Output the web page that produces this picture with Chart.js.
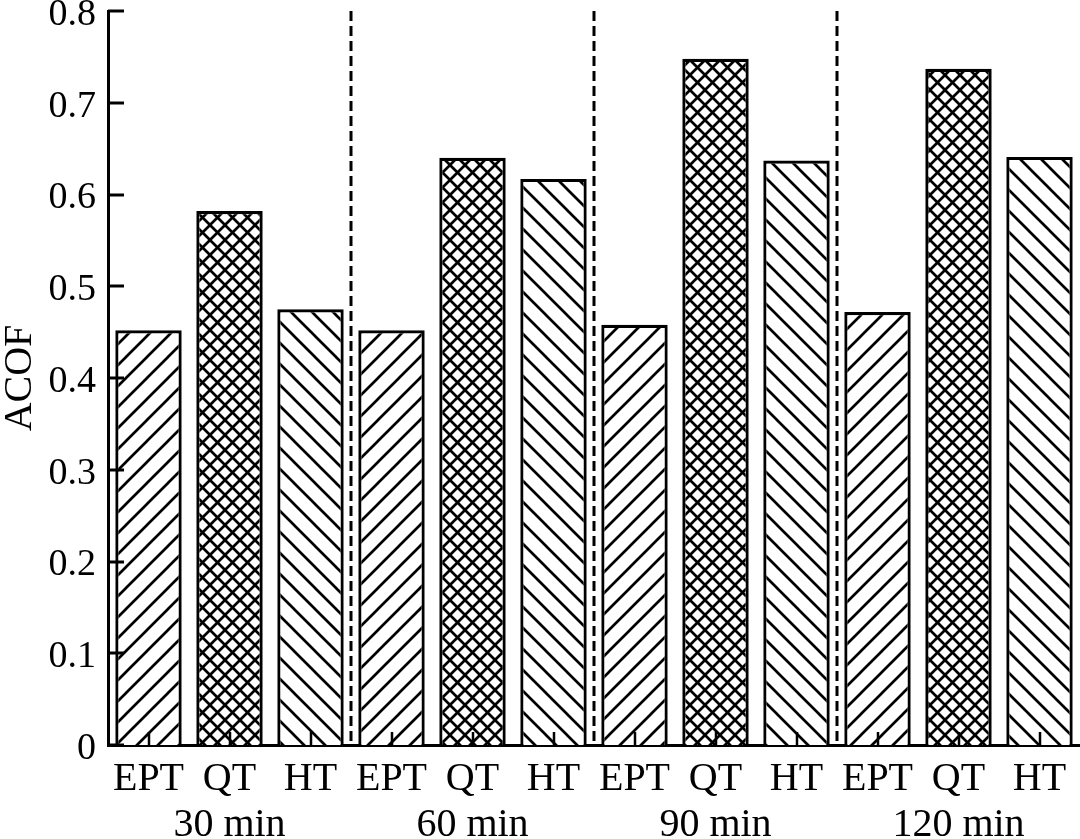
<!DOCTYPE html>
<html>
<head>
<meta charset="utf-8">
<script src="https://cdn.jsdelivr.net/npm/chart.js@4/dist/chart.umd.min.js"></script>
<style>
html,body{margin:0;padding:0;background:#fff;}
#wrap{width:1080px;height:839px;}
</style>
</head>
<body>
<div id="wrap"><canvas id="c" width="1080" height="839"></canvas></div>
<script>
const categories = ['EPT','QT','HT','EPT','QT','HT','EPT','QT','HT','EPT','QT','HT'];
const groupLabels = ['30 min','60 min','90 min','120 min'];
const acof = [0.452,0.582,0.475, 0.452,0.640,0.617, 0.458,0.748,0.637, 0.472,0.737,0.641];
const treatments = ['EPT','QT','HT','EPT','QT','HT','EPT','QT','HT','EPT','QT','HT'];
const yTicks = [0,0.1,0.2,0.3,0.4,0.5,0.6,0.7,0.8];

function makePattern(kind){
  const s = kind === 'cross' ? 15 : 21;
  const cv = document.createElement('canvas');
  cv.width = s; cv.height = s;
  const g = cv.getContext('2d');
  g.fillStyle = '#fff'; g.fillRect(0,0,s,s);
  g.strokeStyle = '#000'; g.lineWidth = 2.7; g.lineCap = 'square';
  function fwd(){ // "/"
    g.beginPath();
    g.moveTo(-2,s+2); g.lineTo(s+2,-2);
    g.moveTo(-2,2); g.lineTo(2,-2);
    g.moveTo(s-2,s+2); g.lineTo(s+2,s-2);
    g.stroke();
  }
  function back(){ // "\"
    g.beginPath();
    g.moveTo(-2,-2); g.lineTo(s+2,s+2);
    g.moveTo(s-2,-2); g.lineTo(s+2,2);
    g.moveTo(-2,s-2); g.lineTo(2,s+2);
    g.stroke();
  }
  if (kind === 'fwd') fwd();
  else if (kind === 'back') back();
  else { fwd(); back(); }
  return document.getElementById('c').getContext('2d').createPattern(cv,'repeat');
}
const patternFor = {EPT: makePattern('fwd'), QT: makePattern('cross'), HT: makePattern('back')};

const FONT = "'Liberation Serif','Times New Roman',serif";

const decor = {
  id:'decor',
  afterDatasetsDraw(chart){
    const ctx = chart.ctx, a = chart.chartArea;
    const xs = chart.scales.x, ys = chart.scales.y;
    ctx.save();
    // dashed group separators
    ctx.strokeStyle = '#000'; ctx.lineWidth = 3; ctx.setLineDash([10,5]);
    for (let i = 3; i < categories.length; i += 3){
      const px = Math.round((xs.getPixelForValue(i-1) + xs.getPixelForValue(i)) / 2);
      ctx.beginPath(); ctx.moveTo(px, a.top); ctx.lineTo(px, a.bottom); ctx.stroke();
    }
    ctx.setLineDash([]);
    ctx.lineWidth = 3;
    // inward y ticks
    yTicks.forEach(v => {
      const py = Math.round(ys.getPixelForValue(v));
      ctx.beginPath(); ctx.moveTo(a.left, py); ctx.lineTo(a.left + 16, py); ctx.stroke();
    });
    // inward x ticks
    ctx.lineWidth = 2.5;
    categories.forEach((c,i) => {
      const px = Math.round(xs.getPixelForValue(i));
      ctx.beginPath(); ctx.moveTo(px, a.bottom); ctx.lineTo(px, a.bottom - 13); ctx.stroke();
    });
    ctx.restore();
  }
};

new Chart(document.getElementById('c'), {
  type:'bar',
  data:{
    labels: categories,
    datasets:[{
      label:'ACOF',
      data: acof,
      backgroundColor: treatments.map(t => patternFor[t]),
      borderColor:'#000',
      borderWidth:3.2,
      barPercentage:0.82,
      categoryPercentage:1
    }]
  },
  options:{
    responsive:false,
    devicePixelRatio:1,
    animation:false,
    layout:{padding:{top:11,right:0,left:0,bottom:0}},
    plugins:{legend:{display:false},tooltip:{enabled:false}},
    scales:{
      x:{
        type:'category',
        position:'bottom',
        offset:true,
        grid:{display:false, drawTicks:false},
        border:{display:true,color:'#000',width:3},
        ticks:{color:'#000',font:{family:FONT,size:40},padding:10,maxRotation:0,autoSkip:false},
        afterFit(s){ s.height = 52; s.paddingLeft = 0; s.paddingRight = 0; }
      },
      x2:{
        type:'category',
        position:'bottom',
        labels: groupLabels,
        offset:true,
        grid:{display:false, drawTicks:false},
        border:{display:false},
        ticks:{color:'#000',font:{family:FONT,size:40},padding:4,maxRotation:0,autoSkip:false},
        afterFit(s){ s.height = 42; s.paddingLeft = 0; s.paddingRight = 0; }
      },
      y:{
        min:0,max:0.8,
        afterBuildTicks(s){ s.ticks = yTicks.map(v => ({value:v})); },
        grid:{display:false, drawTicks:false},
        border:{display:true,color:'#000',width:3},
        ticks:{color:'#000',font:{family:FONT,size:38},padding:12,labelOffset:4,
          callback:(v)=> String(v)},
        title:{display:true,text:'ACOF',color:'#000',font:{family:FONT,size:40,lineHeight:1},padding:0},
        afterFit(s){ s.width = 108; s.paddingTop = 0; s.paddingBottom = 0; }
      }
    }
  },
  plugins:[decor]
});
</script>
</body>
</html>
